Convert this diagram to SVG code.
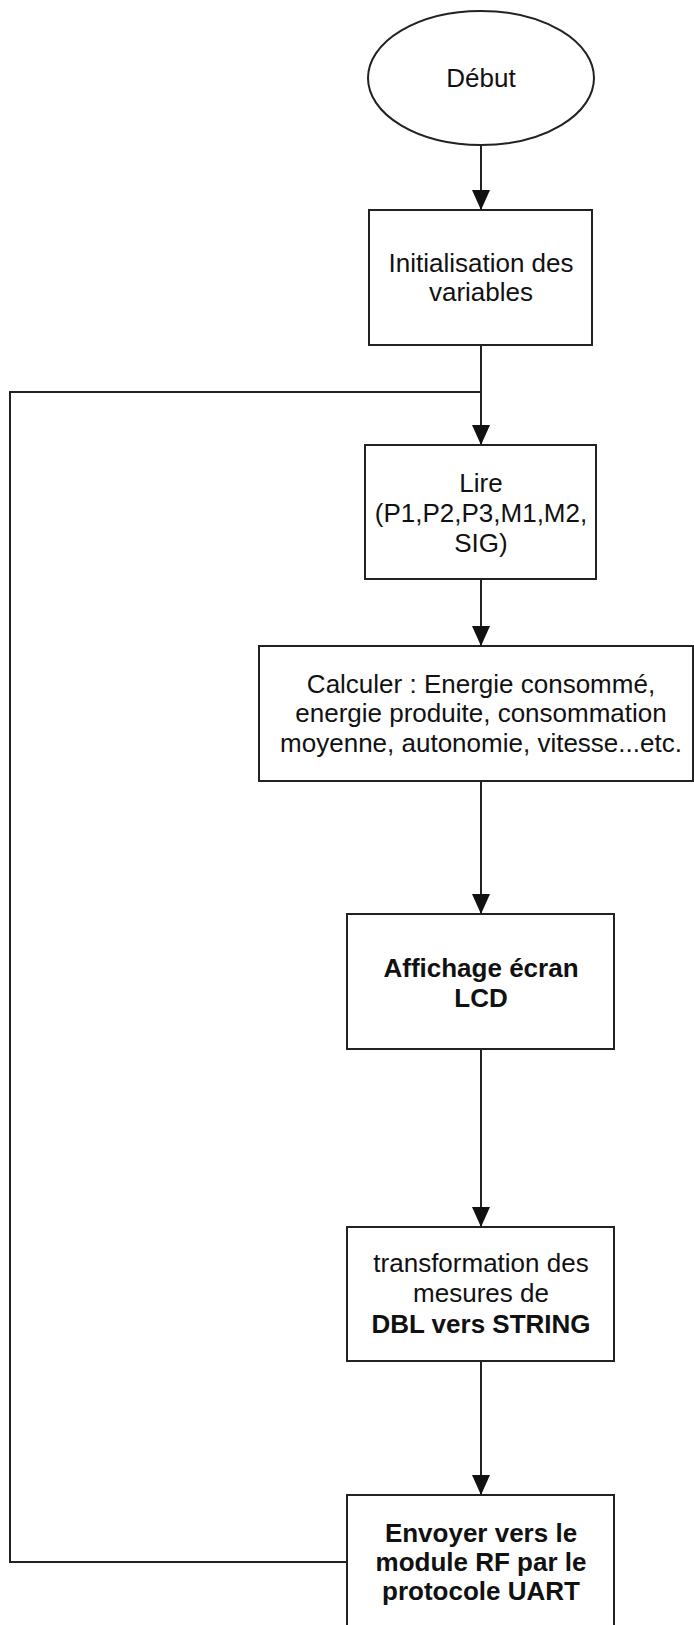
<svg xmlns="http://www.w3.org/2000/svg" width="694" height="1625" viewBox="0 0 694 1625">
  <style>
    .shape { fill: #ffffff; stroke: #222222; stroke-width: 2; }
    .edge { fill: none; stroke: #222222; stroke-width: 2; }
    .label { font-family: "Liberation Sans", Arial, sans-serif; font-size: 26px; fill: #111111; text-anchor: middle; }
    .bold { font-weight: bold; }
  </style>
  <defs>
    <marker id="arrow" viewBox="0 0 20 18" refX="20" refY="9" markerWidth="20" markerHeight="18" markerUnits="userSpaceOnUse" orient="auto">
      <path d="M0,0 L20,9 L0,18 Z" fill="#111111"/>
    </marker>
  </defs>
  <rect width="694" height="1625" fill="#ffffff"/>

  <!-- connectors -->
  <g id="connectors">
    <line class="edge" x1="481" y1="145" x2="481" y2="210" marker-end="url(#arrow)"/>
    <line class="edge" x1="481" y1="345" x2="481" y2="445" marker-end="url(#arrow)"/>
    <polyline class="edge" points="347,1562 10,1562 10,392 481,392"/>
    <line class="edge" x1="481" y1="579" x2="481" y2="646" marker-end="url(#arrow)"/>
    <line class="edge" x1="481" y1="781" x2="481" y2="914" marker-end="url(#arrow)"/>
    <line class="edge" x1="481" y1="1049" x2="481" y2="1227" marker-end="url(#arrow)"/>
    <line class="edge" x1="481" y1="1361" x2="481" y2="1495" marker-end="url(#arrow)"/>
  </g>

  <!-- start -->
  <g id="debut">
    <ellipse class="shape" cx="481" cy="78" rx="113" ry="67"/>
    <text class="label" x="481" y="87">Début</text>
  </g>

  <!-- variable initialisation -->
  <g id="init">
    <rect class="shape" x="369" y="210" width="223" height="135"/>
    <text class="label" x="481" y="272">Initialisation des</text>
    <text class="label" x="481" y="301">variables</text>
  </g>

  <!-- read inputs -->
  <g id="lire">
    <rect class="shape" x="365" y="445" width="231" height="134"/>
    <text class="label" x="481" y="492">Lire</text>
    <text class="label" x="481" y="522">(P1,P2,P3,M1,M2,</text>
    <text class="label" x="481" y="552">SIG)</text>
  </g>

  <!-- computations -->
  <g id="calculer">
    <rect class="shape" x="259" y="646" width="434" height="135"/>
    <text class="label" x="481" y="693">Calculer : Energie consommé,</text>
    <text class="label" x="481" y="722">energie produite, consommation</text>
    <text class="label" x="481" y="752">moyenne, autonomie, vitesse...etc.</text>
  </g>

  <!-- LCD display -->
  <g id="affichage">
    <rect class="shape" x="347" y="914" width="267" height="135"/>
    <text class="label bold" x="481" y="977">Affichage écran</text>
    <text class="label bold" x="481" y="1007">LCD</text>
  </g>

  <!-- conversion -->
  <g id="transformation">
    <rect class="shape" x="347" y="1227" width="267" height="134"/>
    <text class="label" x="481" y="1272">transformation des</text>
    <text class="label" x="481" y="1302">mesures de</text>
    <text class="label bold" x="481" y="1333">DBL vers STRING</text>
  </g>

  <!-- RF transmission -->
  <g id="envoyer">
    <rect class="shape" x="347" y="1495" width="267" height="150"/>
    <text class="label bold" x="481" y="1542">Envoyer vers le</text>
    <text class="label bold" x="481" y="1571">module RF par le</text>
    <text class="label bold" x="481" y="1600">protocole UART</text>
  </g>
</svg>
